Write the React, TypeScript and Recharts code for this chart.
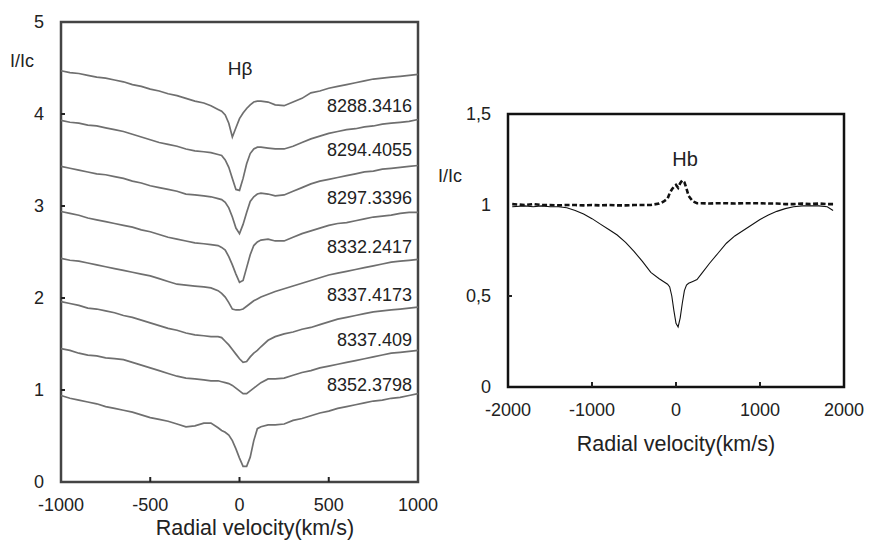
import { LineChart, Line, XAxis, YAxis, ReferenceArea } from "recharts"

// left panel: H-beta profiles, shifted vertically
const leftVelocity = [-1000, -950, -900, -850, -800, -750, -700, -650, -600, -550, -500, -450, -400, -350, -300, -250, -200, -160, -120, -100, -80, -60, -40, -20, 0, 20, 40, 60, 80, 100, 120, 160, 200, 250, 300, 350, 400, 450, 500, 550, 600, 650, 700, 750, 800, 850, 900, 950, 1000]

const line1 = [4.47, 4.45, 4.44, 4.42, 4.4, 4.39, 4.37, 4.35, 4.32, 4.3, 4.27, 4.25, 4.22, 4.2, 4.17, 4.14, 4.12, 4.09, 4.05, 4.03, 3.99, 3.9, 3.75, 3.85, 3.95, 4.01, 4.06, 4.1, 4.13, 4.14, 4.14, 4.13, 4.1, 4.09, 4.13, 4.17, 4.23, 4.25, 4.28, 4.3, 4.32, 4.34, 4.36, 4.38, 4.39, 4.4, 4.41, 4.42, 4.43]
const line2 = [3.93, 3.91, 3.9, 3.88, 3.87, 3.85, 3.83, 3.81, 3.78, 3.75, 3.72, 3.69, 3.67, 3.65, 3.62, 3.6, 3.59, 3.58, 3.56, 3.55, 3.5, 3.42, 3.3, 3.18, 3.17, 3.3, 3.46, 3.57, 3.62, 3.64, 3.64, 3.63, 3.62, 3.62, 3.65, 3.69, 3.73, 3.76, 3.79, 3.81, 3.83, 3.84, 3.86, 3.87, 3.89, 3.9, 3.91, 3.92, 3.94]
const line3 = [3.43, 3.41, 3.39, 3.37, 3.35, 3.34, 3.32, 3.3, 3.27, 3.25, 3.22, 3.2, 3.18, 3.16, 3.13, 3.12, 3.11, 3.1, 3.08, 3.07, 3.04, 2.98, 2.88, 2.76, 2.7, 2.8, 2.93, 3.05, 3.1, 3.13, 3.14, 3.13, 3.11, 3.12, 3.16, 3.2, 3.24, 3.27, 3.29, 3.31, 3.33, 3.35, 3.37, 3.38, 3.4, 3.41, 3.42, 3.43, 3.44]
const line4 = [2.94, 2.92, 2.9, 2.87, 2.85, 2.83, 2.81, 2.79, 2.77, 2.74, 2.72, 2.69, 2.66, 2.64, 2.62, 2.6, 2.59, 2.58, 2.57, 2.55, 2.52, 2.45, 2.36, 2.26, 2.17, 2.19, 2.33, 2.47, 2.57, 2.61, 2.63, 2.64, 2.62, 2.62, 2.66, 2.7, 2.73, 2.76, 2.79, 2.81, 2.82, 2.84, 2.86, 2.88, 2.89, 2.9, 2.92, 2.93, 2.93]
const line5 = [2.43, 2.41, 2.4, 2.38, 2.36, 2.34, 2.32, 2.3, 2.28, 2.26, 2.24, 2.21, 2.18, 2.15, 2.14, 2.13, 2.12, 2.11, 2.08, 2.05, 2.01, 1.95, 1.88, 1.87, 1.87, 1.88, 1.91, 1.94, 1.97, 1.99, 2.01, 2.04, 2.07, 2.1, 2.13, 2.16, 2.19, 2.22, 2.25, 2.27, 2.29, 2.31, 2.33, 2.35, 2.37, 2.39, 2.4, 2.41, 2.42]
const line6 = [1.96, 1.94, 1.92, 1.89, 1.88, 1.86, 1.84, 1.81, 1.79, 1.76, 1.73, 1.7, 1.67, 1.65, 1.62, 1.6, 1.59, 1.58, 1.58, 1.57, 1.53, 1.49, 1.44, 1.39, 1.34, 1.3, 1.31, 1.36, 1.4, 1.43, 1.47, 1.54, 1.58, 1.61, 1.63, 1.66, 1.68, 1.71, 1.74, 1.77, 1.79, 1.81, 1.83, 1.85, 1.86, 1.87, 1.88, 1.89, 1.9]
const line7 = [1.45, 1.43, 1.4, 1.38, 1.37, 1.35, 1.34, 1.33, 1.3, 1.27, 1.24, 1.21, 1.18, 1.15, 1.13, 1.12, 1.11, 1.1, 1.1, 1.09, 1.08, 1.07, 1.05, 1.02, 0.99, 0.96, 0.96, 0.99, 1.02, 1.05, 1.08, 1.12, 1.12, 1.13, 1.16, 1.19, 1.21, 1.24, 1.26, 1.28, 1.3, 1.32, 1.34, 1.36, 1.38, 1.4, 1.41, 1.42, 1.43]
const line8 = [0.94, 0.91, 0.89, 0.87, 0.85, 0.82, 0.8, 0.78, 0.76, 0.73, 0.7, 0.68, 0.66, 0.63, 0.6, 0.61, 0.64, 0.64, 0.59, 0.56, 0.54, 0.51, 0.45, 0.36, 0.26, 0.17, 0.17, 0.27, 0.45, 0.58, 0.6, 0.62, 0.62, 0.63, 0.67, 0.69, 0.72, 0.75, 0.77, 0.8, 0.82, 0.84, 0.86, 0.88, 0.89, 0.91, 0.92, 0.94, 0.96]

const leftLines = [line1, line2, line3, line4, line5, line6, line7, line8]
const dateLabels = ["8288.3416", "8294.4055", "8297.3396", "8332.2417", "8337.4173", "8337.409", "8352.3798"]
const leftXTicks = [-1000, -500, 0, 500, 1000]
const leftYTicks = [0, 1, 2, 3, 4, 5]

// right panel: absorption profile and emission residual
const rightVelocity = [-1950, -1800, -1700, -1600, -1500, -1400, -1300, -1200, -1100, -1000, -900, -800, -700, -600, -500, -400, -300, -200, -150, -100, -75, -50, -25, 0, 25, 50, 75, 100, 125, 150, 200, 250, 300, 400, 500, 600, 700, 800, 900, 1000, 1100, 1200, 1300, 1400, 1500, 1600, 1700, 1800, 1870]
const absorption = [0.99, 0.995, 0.99, 0.995, 0.99, 0.99, 0.985, 0.97, 0.95, 0.925, 0.895, 0.865, 0.835, 0.795, 0.745, 0.69, 0.63, 0.595, 0.58, 0.565, 0.55, 0.5, 0.42, 0.35, 0.33, 0.38, 0.46, 0.53, 0.56, 0.57, 0.58, 0.59, 0.62, 0.68, 0.735, 0.79, 0.83, 0.86, 0.89, 0.92, 0.945, 0.965, 0.98, 0.99, 0.995, 0.995, 0.995, 0.99, 0.97]
const emission = [1.005, 1.0, 1.005, 1.0, 1.0, 0.998, 1.0, 1.0, 0.998, 1.0, 0.998, 1.0, 0.998, 0.998, 1.0, 1.0, 1.0, 1.008, 1.018, 1.035, 1.065, 1.085, 1.1, 1.11, 1.095, 1.12, 1.135, 1.125, 1.09, 1.05, 1.02, 1.01, 1.01, 1.008, 1.01, 1.01, 1.008, 1.01, 1.01, 1.01, 1.008, 1.008, 1.005, 1.005, 1.008, 1.005, 1.008, 1.005, 1.005]
const rightXTicks = [-2000, -1000, 0, 1000, 2000]
const rightYTicks = [0, 0.5, 1, 1.5]

const leftRows = leftVelocity.map((v, i) => {
  const row: Record<string, number> = { v }
  leftLines.forEach((arr, k) => (row[`l${k}`] = arr[i]))
  return row
})
const rightRows = rightVelocity.map((v, i) => ({ v, abs: absorption[i], em: emission[i] }))

const font = "'Liberation Sans', Arial, sans-serif"

const makeYTick = (fmt: (n: number) => string, skip: number[]) => (props: any) => {
  const { x, y, payload } = props
  return (
    <g>
      {!skip.includes(payload.value) && <line x1={x} x2={x + 4} y1={y} y2={y} stroke="#222" strokeWidth={2} />}
      <text x={x - 17} y={y} dy="0.36em" textAnchor="end" fontSize={18} fontFamily={font} fill="#222">
        {fmt(payload.value)}
      </text>
    </g>
  )
}

const makeXTick = (skip: number[]) => (props: any) => {
  const { x, y, payload } = props
  return (
    <g>
      {!skip.includes(payload.value) && <line x1={x} x2={x} y1={y} y2={y - 5} stroke="#222" strokeWidth={2} />}
      <text x={x} y={y + 29} textAnchor="middle" fontSize={18} fontFamily={font} fill="#222">
        {payload.value}
      </text>
    </g>
  )
}

export default function App() {
  return (
    <div style={{ position: "absolute", left: 0, top: 0, width: 872, height: 542, background: "#fff" }}>
      <div style={{ position: "absolute", left: 0, top: 0 }}>
        <LineChart width={440} height={542} data={leftRows} margin={{ top: 22, right: 22, bottom: 0, left: 0 }}>
          <XAxis type="number" dataKey="v" domain={[-1000, 1000]} ticks={leftXTicks} height={60}
            axisLine={false} tickLine={false} tickSize={0} tickMargin={0} tick={makeXTick([-1000, 1000])} />
          <YAxis type="number" domain={[0, 5]} ticks={leftYTicks} width={61}
            axisLine={false} tickLine={false} tickSize={0} tickMargin={0} tick={makeYTick((n) => String(n), [0, 5])} />
          {leftLines.map((_, k) => (
            <Line key={k} dataKey={`l${k}`} type="linear" stroke="#6f6f6f" strokeWidth={1.7} dot={false} isAnimationActive={false} />
          ))}
          <ReferenceArea x1={-1000} x2={1000} y1={0} y2={5} fill="none" stroke="#444" strokeWidth={2.5} />
        </LineChart>
      </div>
      <div style={{ position: "absolute", left: 440, top: 0 }}>
        <LineChart width={432} height={542} data={rightRows} margin={{ top: 114, right: 28, bottom: 0, left: 0 }}>
          <XAxis type="number" dataKey="v" domain={[-2000, 2000]} ticks={rightXTicks} height={155}
            axisLine={false} tickLine={false} tickSize={0} tickMargin={0} tick={makeXTick([-2000, 2000])} />
          <YAxis type="number" domain={[0, 1.5]} ticks={rightYTicks} width={68}
            axisLine={false} tickLine={false} tickSize={0} tickMargin={0}
            tick={makeYTick((n) => String(n).replace(".", ","), [0, 1, 1.5])} />
          <Line dataKey="abs" type="linear" stroke="#111" strokeWidth={1.1} dot={false} isAnimationActive={false} />
          <Line dataKey="em" type="linear" stroke="#111" strokeWidth={2.6} strokeDasharray="5 2.5" dot={false} isAnimationActive={false} />
          <ReferenceArea x1={-2000} x2={2000} y1={0} y2={1.5} fill="none" stroke="#111" strokeWidth={2.5} />
        </LineChart>
      </div>
      <svg width={872} height={542} style={{ position: "absolute", left: 0, top: 0, pointerEvents: "none" }}
        fontFamily={font} fill="#222">
        <text x={22} y={61} dy="0.36em" textAnchor="middle" fontSize={18}>I/Ic</text>
        <text x={240} y={68} dy="0.36em" textAnchor="middle" fontSize={19}>Hβ</text>
        {dateLabels.map((d, i) => (
          <text key={d} x={412} y={[106, 150, 198, 247, 295, 340, 385][i]} dy="0.36em" textAnchor="end" fontSize={18}>
            {d}
          </text>
        ))}
        <text x={255} y={527} dy="0.36em" textAnchor="middle" fontSize={21.5}>Radial velocity(km/s)</text>
        <text x={450} y={176} dy="0.36em" textAnchor="middle" fontSize={18}>I/Ic</text>
        <text x={685} y={159} dy="0.36em" textAnchor="middle" fontSize={20}>Hb</text>
        <text x={676} y={443} dy="0.36em" textAnchor="middle" fontSize={21.5}>Radial velocity(km/s)</text>
      </svg>
    </div>
  )
}
